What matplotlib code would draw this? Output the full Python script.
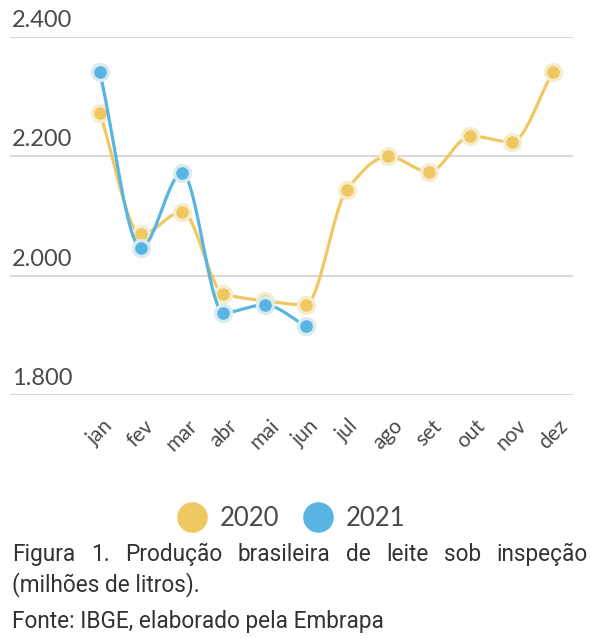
import numpy as np
import matplotlib
matplotlib.use("Agg")
import matplotlib.pyplot as plt
from matplotlib.lines import Line2D
from matplotlib.transforms import blended_transform_factory

meses = ["jan", "fev", "mar", "abr", "mai", "jun", "jul", "ago", "set", "out", "nov", "dez"]
prod_2020 = [2273, 2069, 2107, 1970, 1958, 1951, 2144, 2200, 2174, 2234, 2224, 2341]
prod_2021 = [2341, 2047, 2172, 1938, 1951, 1916]
yticks = [1800, 2000, 2200, 2400]

cor_2020 = "#f0c862"
cor_2021 = "#58b4e2"
halo_2020 = "#f6ecd0"
halo_2021 = "#d9ebee"
cinza = "#4a4a4a"


def curva_suave(x, y, n=30):
    # monotone cubic (Fritsch-Carlson) just for drawing the line
    x = np.asarray(x, float)
    y = np.asarray(y, float)
    h = np.diff(x)
    d = np.diff(y) / h
    m = np.zeros_like(y)
    m[0], m[-1] = d[0], d[-1]
    for i in range(1, len(y) - 1):
        if d[i - 1] * d[i] > 0:
            m[i] = 2.0 / (1.0 / d[i - 1] + 1.0 / d[i])
    xs, ys = [], []
    for i in range(len(x) - 1):
        t = np.linspace(0, 1, n)
        h00 = 2 * t**3 - 3 * t**2 + 1
        h10 = t**3 - 2 * t**2 + t
        h01 = -2 * t**3 + 3 * t**2
        h11 = t**3 - t**2
        xs.append(x[i] + t * h[i])
        ys.append(h00 * y[i] + h10 * h[i] * m[i] + h01 * y[i + 1] + h11 * h[i] * m[i + 1])
    return np.concatenate(xs), np.concatenate(ys)


fig = plt.figure(figsize=(6, 6.38), dpi=100)
ax = fig.add_axes([10 / 600, 1 - 395 / 638, 563 / 600, 358 / 638])

x20 = np.arange(len(prod_2020))
x21 = np.arange(len(prod_2021))

for x, y, cor, halo, z in [(x20, prod_2020, cor_2020, halo_2020, 3), (x21, prod_2021, cor_2021, halo_2021, 4)]:
    xs, ys = curva_suave(x, y)
    ax.plot(xs, ys, color=cor, lw=2.3, zorder=z, clip_on=False, solid_capstyle="round")
    ax.plot(x, y, "o", ms=11.5, color=cor, mec=halo, mew=2.4, zorder=z + 0.5, clip_on=False)

ax.set_xlim(-2.18, 11.49)
ax.set_ylim(1800, 2400)
ax.set_yticks(yticks)
ax.yaxis.grid(True, color="#d9d9d9", lw=1.5)
ax.set_axisbelow(True)
ax.tick_params(axis="y", length=0, labelleft=False)
for s in ax.spines.values():
    s.set_visible(False)

trans = blended_transform_factory(ax.transAxes, ax.transData)
for v in yticks:
    ax.text(0.003, v + 10, f"{v // 1000}.{v % 1000:03d}", transform=trans, ha="left", va="bottom",
            fontsize=17, color=cinza, family="Lato")

ax.set_xticks(x20)
ax.set_xticklabels(meses, rotation=45, ha="center", va="top", fontsize=15, color=cinza, family="Lato")
ax.tick_params(axis="x", length=0, pad=15)

handles = [Line2D([], [], ls="", marker="o", ms=21, color=cor_2020),
           Line2D([], [], ls="", marker="o", ms=21, color=cor_2021)]
fig.legend(handles, ["2020", "2021"], loc="center", bbox_to_anchor=(291 / 600, 1 - 518 / 638), ncol=2,
           frameon=False, prop={"family": "Lato", "size": 18.5}, labelcolor=cinza,
           handletextpad=0.5, columnspacing=0.9, handlelength=1.2)

# legenda justificada como no original
fig.canvas.draw()
renderer = fig.canvas.get_renderer()
palavras = "Figura 1. Produção brasileira de leite sob inspeção".split()
estilo = dict(fontsize=16.3, color="#333333", family="Roboto", va="baseline")
esq, dir_ = 12 / 600, 588 / 600
objs = [fig.text(0, 1 - 561 / 638, p, **estilo) for p in palavras]
larg = [o.get_window_extent(renderer).width / fig.bbox.width for o in objs]
espaco = (dir_ - esq - sum(larg)) / (len(palavras) - 1)
pos = esq
for o, w in zip(objs, larg):
    o.set_x(pos)
    pos += w + espaco
fig.text(esq, 1 - 591 / 638, "(milhões de litros).", **estilo)
fig.text(esq, 1 - 628 / 638, "Fonte: IBGE, elaborado pela Embrapa", **estilo)

fig.savefig("out.png", dpi=100)
